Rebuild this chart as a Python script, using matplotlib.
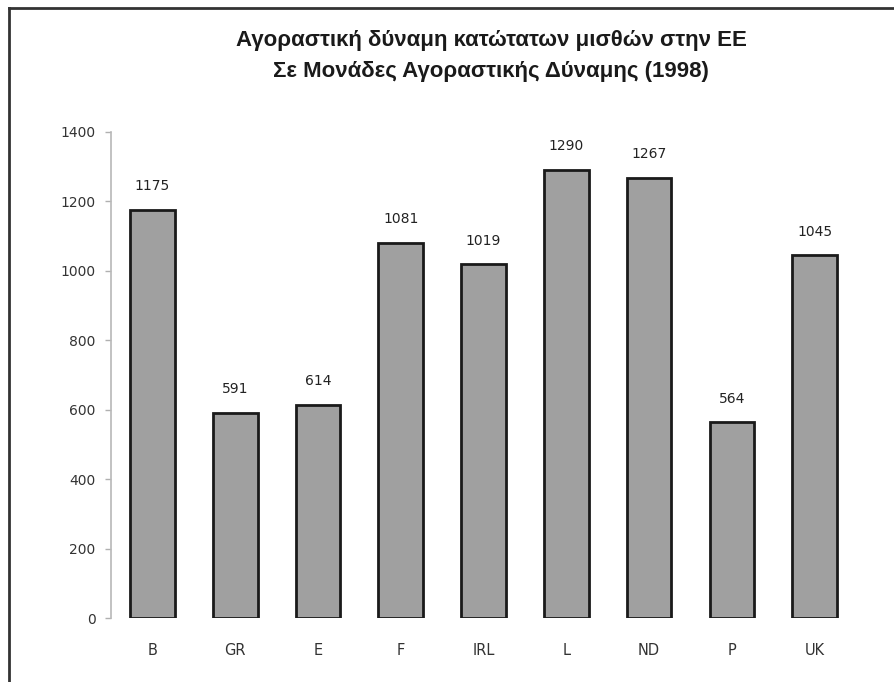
import matplotlib
matplotlib.use("Agg")
import matplotlib.pyplot as plt
from matplotlib.lines import Line2D

categories = ["B", "GR", "E", "F", "IRL", "L", "ND", "P", "UK"]
values = [1175, 591, 614, 1081, 1019, 1290, 1267, 564, 1045]
yticks = [0, 200, 400, 600, 800, 1000, 1200, 1400]
title_lines = ["Αγοραστική δύναμη κατώτατων μισθών στην ΕΕ",
               "Σε Μονάδες Αγοραστικής Δύναμης (1998)"]

fig = plt.figure(figsize=(8.95, 6.82), dpi=100)
fig.patch.set_facecolor("white")
ax = fig.add_axes([0.124, 0.0938, 0.8325, 0.7127])

x = list(range(len(categories)))
ax.bar(x, values, width=0.54, color="#a0a0a0", edgecolor="#1a1a1a", linewidth=2, zorder=2)
for xi, v in zip(x, values):
    ax.annotate(str(v), (xi, v), xytext=(0, 12), textcoords="offset points",
                ha="center", va="bottom", fontsize=10, color="#222222",
                family="DejaVu Sans")

ax.set_xlim(-0.5, len(categories) - 0.5)
ax.set_ylim(0, 1400)
ax.set_yticks(yticks)
ax.set_yticklabels([str(t) for t in yticks], fontsize=10, color="#333333", family="DejaVu Sans")
ax.set_xticks(x)
ax.set_xticklabels(categories, fontsize=10.5, color="#333333", family="DejaVu Sans")
ax.tick_params(axis="x", length=0, pad=18)
ax.tick_params(axis="y", length=4, width=1, color="#b0b0b0", pad=7)
for s in ["top", "right", "bottom"]:
    ax.spines[s].set_visible(False)
ax.spines["left"].set_color("#b8b8b8")
ax.spines["left"].set_linewidth(1.2)

fig.text(0.549, 0.941, title_lines[0], ha="center", va="center", fontsize=16,
         fontweight="bold", family="Liberation Sans", color="#1a1a1a")
fig.text(0.549, 0.895, title_lines[1], ha="center", va="center", fontsize=16,
         fontweight="bold", family="Liberation Sans", color="#1a1a1a")

# outer frame (top and left edges)
fig.add_artist(Line2D([0.010, 1.0], [0.988, 0.988], transform=fig.transFigure,
                      color="#333333", linewidth=2))
fig.add_artist(Line2D([0.010, 0.010], [0.0, 0.988], transform=fig.transFigure,
                      color="#333333", linewidth=2))

fig.savefig("out.png", dpi=100, facecolor="white")
